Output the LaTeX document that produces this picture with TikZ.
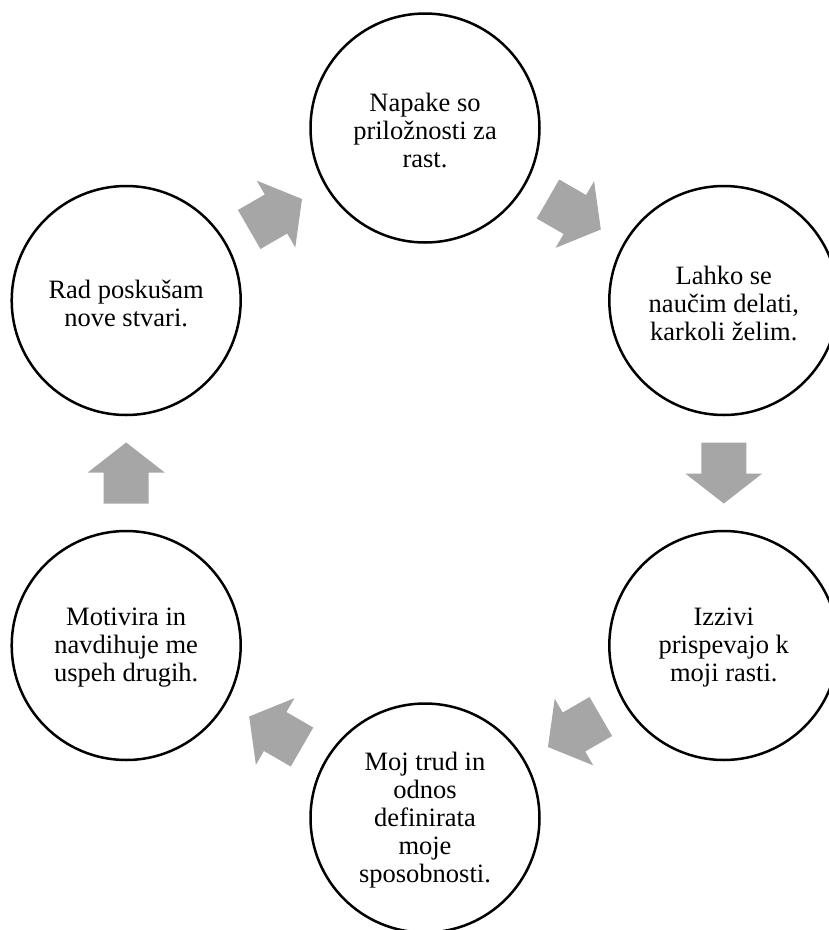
\documentclass[tikz,border=0pt]{standalone}
\usepackage{fontspec}
\setmainfont{Liberation Serif}
\usetikzlibrary{calc}
\definecolor{arrowgray}{RGB}{166,166,166}
\tikzset{
  stage/.style={circle, draw=black, line width=2.5pt, fill=white,
    minimum size=229pt, inner sep=0pt},
  stagetext/.style={inner sep=0pt, align=center,
    font=\fontsize{26.5}{28}\selectfont},
  pics/flowarrow/.style={code={
    \fill[arrowgray] (-30.5,-22.5) -- (0.5,-22.5) -- (0.5,-38.5) -- (30.5,0)
      -- (0.5,38.5) -- (0.5,22.5) -- (-30.5,22.5) -- cycle;}},
}
\begin{document}
\begin{tikzpicture}[x=1pt,y=-1pt]
\path[use as bounding box, clip] (0,0) rectangle (829,930);
\fill[white] (0,0) rectangle (829,930);

% six stages on a ring
\node[stage] (top) at (425,128)     {};
\node[stage] (ur)  at (723.8,300.5) {};
\node[stage] (lr)  at (723.8,645.5) {};
\node[stage] (bot) at (425,818)     {};
\node[stage] (ll)  at (126.2,645.5) {};
\node[stage] (ul)  at (126.2,300.5) {};

% their texts, set a little below each centre
\node[stagetext] (toptxt) at ([yshift=-2.5pt]top.center) {Napake so\\priložnosti za\\rast.};
\node[stagetext] (urtxt)  at ([yshift=-2.5pt]ur.center)  {Lahko se\\naučim delati,\\karkoli želim.};
\node[stagetext] (lrtxt)  at ([yshift=-2.5pt]lr.center)  {Izzivi\\prispevajo k\\moji rasti.};
\node[stagetext] (bottxt) at ([yshift=-2pt]bot.center)   {Moj trud in\\odnos\\definirata\\moje\\sposobnosti.};
\node[stagetext] (lltxt)  at ([yshift=-2.5pt]ll.center)  {Motivira in\\navdihuje me\\uspeh drugih.};
\node[stagetext] (ultxt)  at ([yshift=-2.5pt]ul.center)  {Rad poskušam\\nove stvari.};

% block arrows between neighbouring stages, clockwise
\pic[rotate=-30]  at ($(top)!0.5!(ur)$)  {flowarrow};
\pic[rotate=-90]  at ($(ur)!0.5!(lr)$)   {flowarrow};
\pic[rotate=-150] at ($(lr)!0.5!(bot)$)  {flowarrow};
\pic[rotate=150]  at ($(bot)!0.5!(ll)$)  {flowarrow};
\pic[rotate=90]   at ($(ll)!0.5!(ul)$)   {flowarrow};
\pic[rotate=30]   at ($(ul)!0.5!(top)$)  {flowarrow};
\end{tikzpicture}
\end{document}
